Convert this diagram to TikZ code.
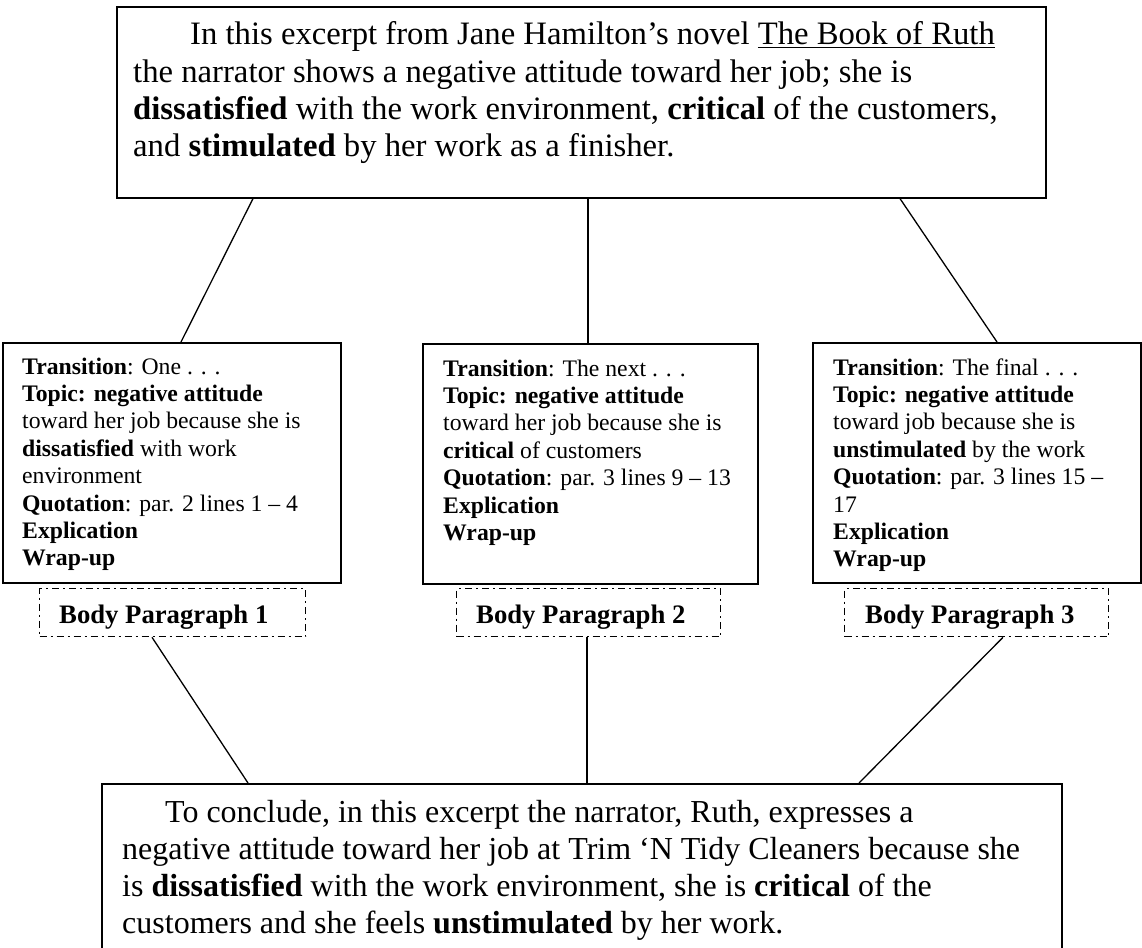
\documentclass[tikz,border=0pt]{standalone}
\usepackage{fontspec}
\setmainfont{Liberation Serif}
\usetikzlibrary{calc}
\tikzset{
  box/.style={draw, line width=1.6pt, anchor=north west, inner sep=0pt},
  lab/.style={draw, line width=1.3pt, dash pattern=on 7pt off 4pt on 2pt off 4pt, anchor=north west, inner sep=0pt},
  txt/.style={anchor=base west, inner sep=0pt, align=left},
  conn/.style={line width=1.3pt},
}
\newcommand{\toptxt}{\fontsize{32.7}{37.3}\selectfont}
\newcommand{\bottxt}{\fontsize{32.0}{37.0}\selectfont}
\newcommand{\smtxt}{\fontsize{23.7}{27.4}\selectfont}
\newcommand{\labtxt}{\fontsize{26.7}{30}\selectfont\bfseries}
\begin{document}
\begin{tikzpicture}[x=1pt,y=-1pt]
\useasboundingbox (0,0) rectangle (1142,947);
\clip (0,0) rectangle (1142,947);
% boxes
\node[box, minimum width=929pt, minimum height=191pt] (top) at (116,6) {};
\node[box, minimum width=338pt, minimum height=240pt] (b1) at (2,342) {};
\node[box, minimum width=335pt, minimum height=240pt] (b2) at (422,343) {};
\node[box, minimum width=328pt, minimum height=240pt] (b3) at (812,342) {};
\node[lab, minimum width=266pt, minimum height=48pt] (l1) at (39,588) {};
\node[lab, minimum width=264pt, minimum height=48pt] (l2) at (456,588) {};
\node[lab, minimum width=264pt, minimum height=48pt] (l3) at (844,588) {};
\node[box, minimum width=960pt, minimum height=190pt] (bot) at (101,783) {};
% texts
\node[txt] (toptext) at (133,45) {\parbox[t]{950pt}{\toptxt
\hspace*{57pt}In this excerpt from Jane Hamilton’s novel \underline{The Book of Ruth}\\
the narrator shows a negative attitude toward her job; she is\\
\textbf{dissatisfied} with the work environment, \textbf{critical} of the customers,\\
and \textbf{stimulated} by her work as a finisher.}};
\node[txt] (t1) at (22,374) {\parbox[t]{330pt}{\smtxt
\textbf{Transition}: One . . .\\
\textbf{Topic: negative attitude}\\
toward her job because she is\\
\textbf{dissatisfied} with work\\
environment\\
\textbf{Quotation}: par. 2 lines 1 -- 4\\
\textbf{Explication}\\
\textbf{Wrap-up}}};
\node[txt] (t2) at (443,376) {\parbox[t]{330pt}{\smtxt
\textbf{Transition}: The next . . .\\
\textbf{Topic: negative attitude}\\
toward her job because she is\\
\textbf{critical} of customers\\
\textbf{Quotation}: par. 3 lines 9 -- 13\\
\textbf{Explication}\\
\textbf{Wrap-up}}};
\node[txt] (t3) at (833,375) {\parbox[t]{330pt}{\smtxt
\textbf{Transition}: The final . . .\\
\textbf{Topic: negative attitude}\\
toward job because she is\\
\textbf{unstimulated} by the work\\
\textbf{Quotation}: par. 3 lines 15 --\\
17\\
\textbf{Explication}\\
\textbf{Wrap-up}}};
\node[txt] (lt1) at (59,623) {\labtxt Body Paragraph 1};
\node[txt] (lt2) at (476,623) {\labtxt Body Paragraph 2};
\node[txt] (lt3) at (865,623) {\labtxt Body Paragraph 3};
\node[txt] (bottext) at (122,822) {\parbox[t]{1000pt}{\bottxt
\hspace*{43pt}To conclude, in this excerpt the narrator, Ruth, expresses a\\
negative attitude toward her job at Trim ‘N Tidy Cleaners because she\\
is \textbf{dissatisfied} with the work environment, she is \textbf{critical} of the\\
customers and she feels \textbf{unstimulated} by her work.}};
% connectors
\draw[conn] ([xshift=137pt]top.south west) -- ([xshift=179pt]b1.north west);
\draw[conn] ([xshift=472pt]top.south west) -- ([xshift=166pt]b2.north west);
\draw[conn] ([xshift=784pt]top.south west) -- ([xshift=185pt]b3.north west);
\draw[conn] ([xshift=113pt]l1.south west) -- ([xshift=147pt]bot.north west);
\draw[conn] ([xshift=131pt]l2.south west) -- ([xshift=486pt]bot.north west);
\draw[conn] ([xshift=159pt]l3.south west) -- ([xshift=758pt]bot.north west);
\end{tikzpicture}
\end{document}
